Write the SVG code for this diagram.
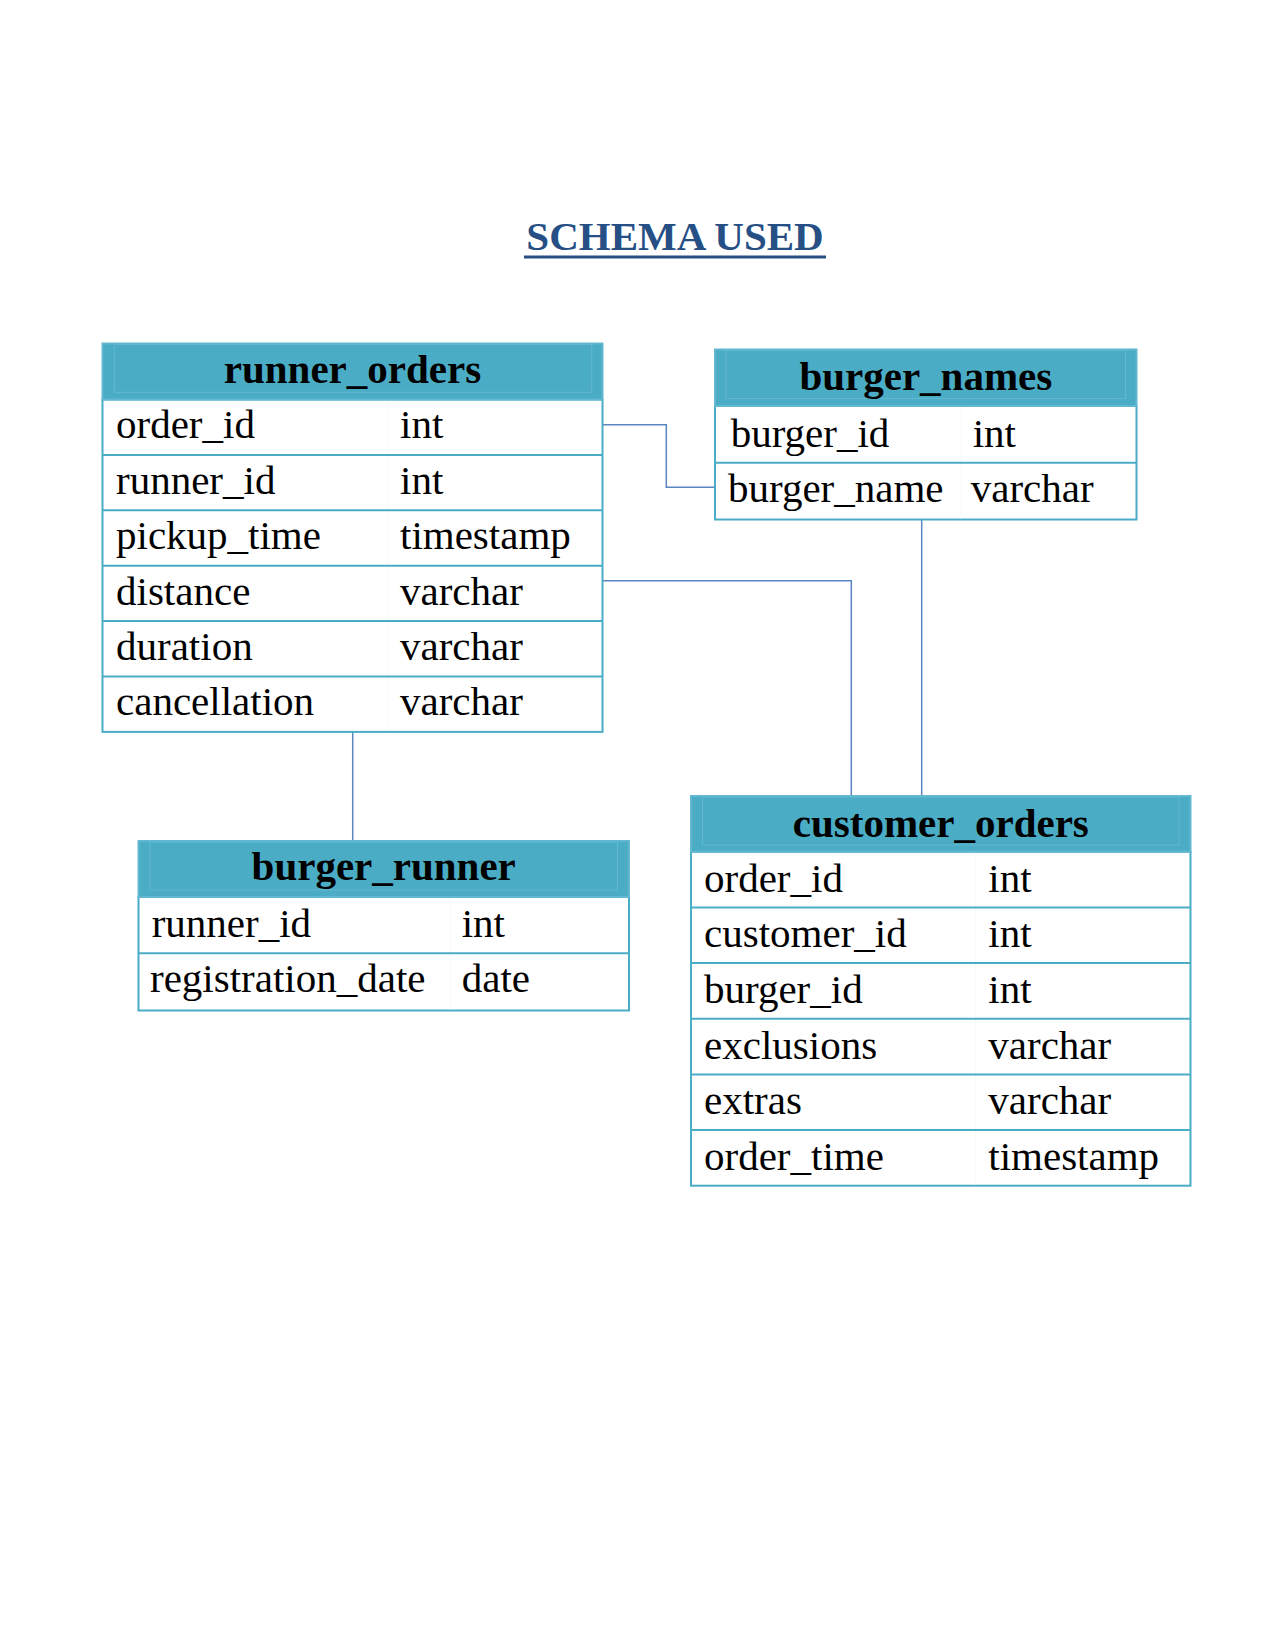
<svg xmlns="http://www.w3.org/2000/svg" width="1275" height="1650" viewBox="0 0 1275 1650">
  <style>
    .hdr { fill: #4BACC6; stroke: #62B8D0; stroke-width: 2; }
    .hdr-inner { fill: none; stroke: #62B8D0; stroke-width: 1; }
    .body { fill: #FFFFFF; stroke: #4BACC6; stroke-width: 2; }
    .row { stroke: #4BACC6; stroke-width: 2; }
    .col { stroke: #F3FAFC; stroke-width: 1; }
    .title { font-family: "Liberation Serif", "Times New Roman", serif; font-weight: bold; font-size: 41px; fill: #000000; text-anchor: middle; }
    .cell { font-family: "Liberation Serif", "Times New Roman", serif; font-size: 41px; fill: #000000; }
    .heading { font-family: "Liberation Serif", "Times New Roman", serif; font-weight: bold; font-size: 41px; fill: #264F85; text-anchor: middle; }
    .link { fill: none; stroke: #5A85BE; stroke-width: 1.5; }
  </style>

  <rect x="0" y="0" width="1275" height="1650" fill="#FFFFFF"/>

  <!-- page heading -->
  <g id="heading">
    <text class="heading" x="675" y="250">SCHEMA USED</text>
    <rect x="524" y="255.5" width="302" height="3" fill="#264F85"/>
  </g>

  <!-- relationships -->
  <g id="connectors">
    <polyline class="link" points="600,424.8 666.3,424.8 666.3,487.3 715,487.3"/>
    <polyline class="link" points="600,580.7 851.3,580.7 851.3,796"/>
    <line class="link" x1="921.7" y1="519.5" x2="921.7" y2="796"/>
    <line class="link" x1="352.7" y1="731.9" x2="352.7" y2="841"/>
  </g>

  <!-- runner_orders -->
  <g id="runner_orders">
    <rect class="body" x="102.5" y="399.5" width="500" height="332.4"/>
    <line class="col" x1="388" y1="400.5" x2="388" y2="731"/>
    <line class="row" x1="102.5" y1="454.9" x2="602.5" y2="454.9"/>
    <line class="row" x1="102.5" y1="510.3" x2="602.5" y2="510.3"/>
    <line class="row" x1="102.5" y1="565.7" x2="602.5" y2="565.7"/>
    <line class="row" x1="102.5" y1="621.1" x2="602.5" y2="621.1"/>
    <line class="row" x1="102.5" y1="676.5" x2="602.5" y2="676.5"/>
    <rect class="hdr" x="102.5" y="343.5" width="500" height="56"/>
    <rect class="hdr-inner" x="114.3" y="344.5" width="477.4" height="47.8"/>
    <text class="title" x="352.5" y="383">runner_orders</text>
    <text class="cell" x="116" y="438.3">order_id</text>
    <text class="cell" x="400" y="438.3">int</text>
    <text class="cell" x="116" y="493.7">runner_id</text>
    <text class="cell" x="400" y="493.7">int</text>
    <text class="cell" x="116" y="549.1">pickup_time</text>
    <text class="cell" x="400" y="549.1">timestamp</text>
    <text class="cell" x="116" y="604.5">distance</text>
    <text class="cell" x="400" y="604.5">varchar</text>
    <text class="cell" x="116" y="659.9">duration</text>
    <text class="cell" x="400" y="659.9">varchar</text>
    <text class="cell" x="116" y="715.3">cancellation</text>
    <text class="cell" x="400" y="715.3">varchar</text>
  </g>

  <!-- burger_names -->
  <g id="burger_names">
    <rect class="body" x="715" y="406" width="421.5" height="113.5"/>
    <line class="col" x1="961" y1="407" x2="961" y2="518.5"/>
    <line class="row" x1="715" y1="462.7" x2="1136.5" y2="462.7"/>
    <rect class="hdr" x="715" y="349.5" width="421.5" height="56.5"/>
    <rect class="hdr-inner" x="726" y="350.5" width="399.5" height="48"/>
    <text class="title" x="925.8" y="390">burger_names</text>
    <text class="cell" x="730.7" y="446.7">burger_id</text>
    <text class="cell" x="972.7" y="446.7">int</text>
    <text class="cell" x="728" y="501.7">burger_name</text>
    <text class="cell" x="970.7" y="501.7">varchar</text>
  </g>

  <!-- burger_runner -->
  <g id="burger_runner">
    <rect class="body" x="138.5" y="897" width="490.5" height="113.5"/>
    <line class="col" x1="450" y1="898" x2="450" y2="1009.5"/>
    <line class="row" x1="138.5" y1="953.3" x2="629" y2="953.3"/>
    <rect class="hdr" x="138.5" y="841" width="490.5" height="56"/>
    <rect class="hdr-inner" x="150" y="842" width="467.5" height="48"/>
    <text class="title" x="383.7" y="880">burger_runner</text>
    <text class="cell" x="151.7" y="936.7">runner_id</text>
    <text class="cell" x="461.7" y="936.7">int</text>
    <text class="cell" x="150" y="991.7">registration_date</text>
    <text class="cell" x="461.7" y="991.7">date</text>
  </g>

  <!-- customer_orders -->
  <g id="customer_orders">
    <rect class="body" x="691" y="851.7" width="499.5" height="334"/>
    <line class="col" x1="975.5" y1="852.7" x2="975.5" y2="1184.7"/>
    <line class="row" x1="691" y1="907.4" x2="1190.5" y2="907.4"/>
    <line class="row" x1="691" y1="963" x2="1190.5" y2="963"/>
    <line class="row" x1="691" y1="1018.7" x2="1190.5" y2="1018.7"/>
    <line class="row" x1="691" y1="1074.4" x2="1190.5" y2="1074.4"/>
    <line class="row" x1="691" y1="1130" x2="1190.5" y2="1130"/>
    <rect class="hdr" x="691" y="796" width="499.5" height="55.7"/>
    <rect class="hdr-inner" x="702.5" y="797" width="476.5" height="48"/>
    <text class="title" x="940.8" y="836.7">customer_orders</text>
    <text class="cell" x="704" y="891.7">order_id</text>
    <text class="cell" x="988.3" y="891.7">int</text>
    <text class="cell" x="704" y="947.4">customer_id</text>
    <text class="cell" x="988.3" y="947.4">int</text>
    <text class="cell" x="704" y="1003">burger_id</text>
    <text class="cell" x="988.3" y="1003">int</text>
    <text class="cell" x="704" y="1058.7">exclusions</text>
    <text class="cell" x="988.3" y="1058.7">varchar</text>
    <text class="cell" x="704" y="1114.4">extras</text>
    <text class="cell" x="988.3" y="1114.4">varchar</text>
    <text class="cell" x="704" y="1170">order_time</text>
    <text class="cell" x="988.3" y="1170">timestamp</text>
  </g>
</svg>
